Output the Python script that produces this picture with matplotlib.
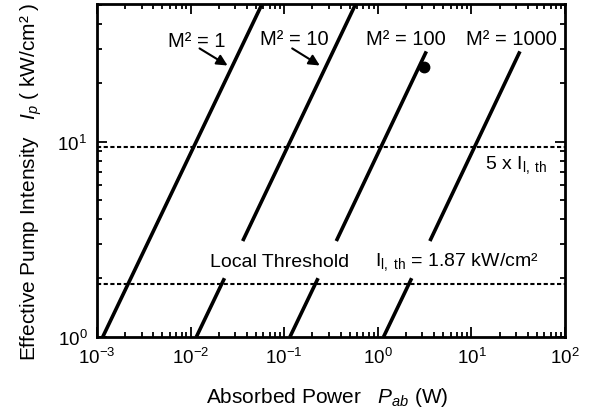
import matplotlib
matplotlib.use('Agg')
import matplotlib.pyplot as plt
from matplotlib.ticker import LogLocator, NullFormatter

plt.rcParams['font.family'] = ['Liberation Sans', 'DejaVu Sans']
plt.rcParams['mathtext.fontset'] = 'custom'
plt.rcParams['mathtext.rm'] = 'Liberation Sans'
plt.rcParams['mathtext.it'] = 'Liberation Sans:italic'
plt.rcParams['mathtext.bf'] = 'Liberation Sans:bold'

# line segments: absorbed power (W) vs pump intensity (kW/cm2)
p_m1 = [1.15e-3, 5.8e-2]
i_m1 = [1.0, 50.7]

p_m10_lo = [1.15e-2, 2.3e-2]
i_m10_lo = [1.0, 2.0]
p_m10_hi = [3.6e-2, 5.8e-1]
i_m10_hi = [3.1, 50.7]

p_m100_lo = [0.115, 0.23]
i_m100_lo = [1.0, 2.0]
p_m100_hi = [0.36, 3.3]
i_m100_hi = [3.1, 29.0]

p_m1000_lo = [1.15, 2.3]
i_m1000_lo = [1.0, 2.0]
p_m1000_hi = [3.6, 33.0]
i_m1000_hi = [3.1, 29.0]

# measured point
p_dot = [3.1]
i_dot = [24.0]

# thresholds
i_th = 1.87
i_5th = 5 * i_th

x_ticks = [1e-3, 1e-2, 1e-1, 1e0, 1e1, 1e2]
y_ticks = [1, 10]

fig = plt.figure(figsize=(6.03, 4.14), dpi=100)
ax = fig.add_axes([0.1609, 0.1836, 0.7761, 0.8043])

segs = [(p_m1, i_m1), (p_m10_lo, i_m10_lo), (p_m10_hi, i_m10_hi),
        (p_m100_lo, i_m100_lo), (p_m100_hi, i_m100_hi),
        (p_m1000_lo, i_m1000_lo), (p_m1000_hi, i_m1000_hi)]
for p, i in segs:
    ax.plot(p, i, color='black', lw=2.6, solid_capstyle='butt')

ax.plot(p_dot, i_dot, 'o', color='black', markersize=7.5)

ax.axhline(i_th, color='black', lw=1.5, dashes=(2, 1.2))
ax.axhline(i_5th, color='black', lw=1.5, dashes=(2, 1.2))

ax.set_xscale('log')
ax.set_yscale('log')
ax.set_xlim(1e-3, 1e2)
ax.set_ylim(1, 50.7)
ax.set_xticks(x_ticks)
ax.set_yticks(y_ticks)
ax.xaxis.set_minor_locator(LogLocator(base=10, subs=range(2, 10)))
ax.yaxis.set_minor_locator(LogLocator(base=10, subs=range(2, 10)))
ax.xaxis.set_minor_formatter(NullFormatter())
ax.yaxis.set_minor_formatter(NullFormatter())

ax.tick_params(which='both', direction='in', top=True, right=True,
               width=1.3, labelsize=13.5, pad=7)
ax.tick_params(which='major', length=7)
ax.tick_params(which='minor', length=3.5)
for s in ax.spines.values():
    s.set_linewidth(2)

ax.set_xlabel('Absorbed Power   $P_{ab}$ (W)', fontsize=15)
ax.set_ylabel('Effective Pump Intensity   $I_p$ ( kW/cm² )', fontsize=15)
ax.xaxis.set_label_coords(0.491, -0.144)
ax.yaxis.set_label_coords(-0.114, 0.468)

# curve labels
ax.text(0.214, 0.889, 'M² = 1', transform=ax.transAxes, fontsize=14.5,
        ha='center', va='center')
ax.text(0.421, 0.895, 'M² = 10', transform=ax.transAxes, fontsize=14.5,
        ha='center', va='center')
ax.text(0.660, 0.895, 'M² = 100', transform=ax.transAxes, fontsize=14.5,
        ha='center', va='center')
ax.text(0.885, 0.895, 'M² = 1000', transform=ax.transAxes, fontsize=14.5,
        ha='center', va='center')

arrow = dict(arrowstyle='-|>', color='black', lw=1.5, mutation_scale=16)
ax.annotate('', xy=(0.284, 0.811), xytext=(0.214, 0.871),
            xycoords='axes fraction', arrowprops=arrow)
ax.annotate('', xy=(0.481, 0.811), xytext=(0.412, 0.871),
            xycoords='axes fraction', arrowprops=arrow)

ax.text(0.829, 0.520, r'5 x I$_{\rm l,\ th}$', transform=ax.transAxes,
        fontsize=14, ha='left', va='center')
ax.text(0.241, 0.228, 'Local Threshold', transform=ax.transAxes,
        fontsize=14, ha='left', va='center')
ax.text(0.594, 0.228, r'I$_{\rm l,\ th}$ = 1.87 kW/cm²', transform=ax.transAxes,
        fontsize=14, ha='left', va='center')

fig.savefig('out.png', dpi=100)
